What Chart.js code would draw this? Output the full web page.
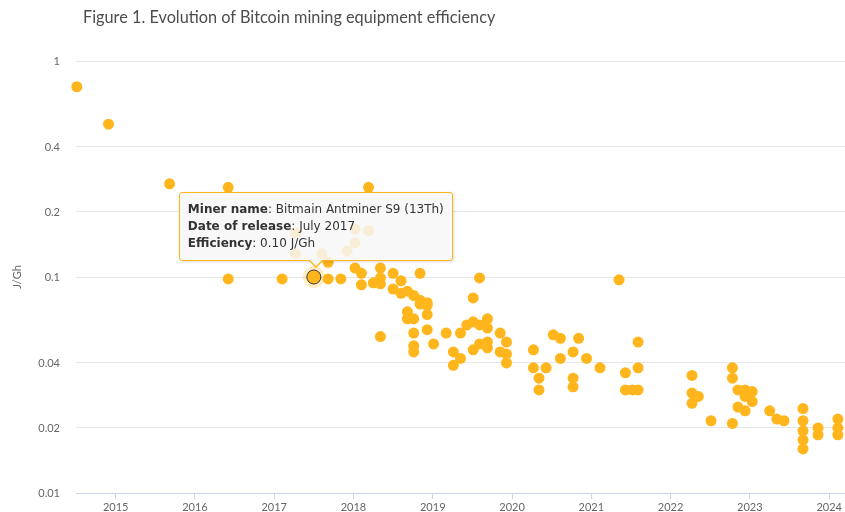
<!DOCTYPE html>
<html>
<head>
<meta charset="utf-8">
<title>Bitcoin mining equipment efficiency</title>
<script src="https://cdn.jsdelivr.net/npm/chart.js@4.4.1/dist/chart.umd.min.js"></script>
<style>
   html, body { margin: 0; padding: 0; background: #fff; }
   #wrap { position: relative; width: 845px; height: 512px; }
   #title {
      position: absolute; left: 83px; top: 8px;
      font: 16.3px Lato, sans-serif; line-height: 18px; color: #4d4d4d;
   }
   #tip {
      display: none; position: absolute; box-sizing: border-box;
      padding: 8px 8px;
      background: rgba(247, 247, 247, 0.85);
      border: 1px solid #ffb61c; border-radius: 3px;
      box-shadow: 1px 1px 3px rgba(0, 0, 0, 0.15);
      font: 12px "DejaVu Sans", sans-serif; line-height: 17px; color: #333;
      white-space: nowrap; pointer-events: none;
   }
   #tip:before, #tip:after {
      content: ''; position: absolute; left: 50%; width: 0; height: 0;
      border-style: solid; border-color: transparent;
   }
   #tip:before { bottom: -8px; margin-left: -8px; border-width: 8px 8px 0 8px; border-top-color: #ffb61c; }
   #tip:after { bottom: -6px; margin-left: -7px; border-width: 7px 7px 0 7px; border-top-color: #f7f7f7; }
</style>
</head>
<body>
<div id="wrap">
   <canvas id="chart"></canvas>
   <div id="title">Figure 1. Evolution of Bitcoin mining equipment efficiency</div>
   <div id="tip"></div>
</div>
<script>
// release date (decimal year) and efficiency (J/Gh) of each machine
const releaseYear = [
   2014.51, 2014.91, 2015.68, 2016.42, 2016.42, 2017.10, 2017.27, 2017.27,
   2017.50, 2017.60, 2017.68, 2017.68, 2017.84, 2017.92,
   2018.02, 2018.02, 2018.02, 2018.10, 2018.10, 2018.19, 2018.19, 2018.25,
   2018.34, 2018.34, 2018.34, 2018.34, 2018.50, 2018.50, 2018.60, 2018.60,
   2018.68, 2018.68, 2018.68, 2018.76, 2018.76, 2018.76, 2018.76, 2018.76,
   2018.84, 2018.84, 2018.84, 2018.93, 2018.93, 2018.93, 2018.93,
   2019.01, 2019.17, 2019.26, 2019.26, 2019.35, 2019.35, 2019.43,
   2019.51, 2019.51, 2019.51, 2019.59, 2019.59, 2019.59,
   2019.69, 2019.69, 2019.69, 2019.69, 2019.85, 2019.85, 2019.93, 2019.93, 2019.93,
   2020.27, 2020.27, 2020.34, 2020.34, 2020.43, 2020.52, 2020.61, 2020.61,
   2020.77, 2020.77, 2020.77, 2020.84, 2020.94, 2021.11,
   2021.35, 2021.43, 2021.43, 2021.52, 2021.59, 2021.59, 2021.59,
   2022.27, 2022.27, 2022.27, 2022.35, 2022.51, 2022.78, 2022.78, 2022.78,
   2022.85, 2022.85, 2022.94, 2022.94, 2022.94, 2023.03, 2023.03,
   2023.25, 2023.34, 2023.43, 2023.67, 2023.67, 2023.67, 2023.67, 2023.67,
   2023.86, 2023.86, 2024.11, 2024.11, 2024.11
]
const efficiency = [
   0.76, 0.51, 0.27, 0.26, 0.098, 0.098, 0.16, 0.128,
   0.10, 0.128, 0.117, 0.098, 0.098, 0.132,
   0.167, 0.144, 0.110, 0.104, 0.092, 0.26, 0.164, 0.094,
   0.110, 0.099, 0.093, 0.053, 0.104, 0.088, 0.096, 0.084,
   0.086, 0.069, 0.064, 0.082, 0.064, 0.055, 0.048, 0.045,
   0.104, 0.078, 0.075, 0.076, 0.074, 0.067, 0.057,
   0.049, 0.055, 0.045, 0.039, 0.055, 0.042, 0.060,
   0.080, 0.062, 0.046, 0.099, 0.060, 0.049,
   0.064, 0.058, 0.050, 0.047, 0.055, 0.045, 0.050, 0.044, 0.040,
   0.046, 0.038, 0.034, 0.030, 0.038, 0.054, 0.052, 0.042,
   0.045, 0.034, 0.031, 0.052, 0.042, 0.038,
   0.097, 0.036, 0.030, 0.030, 0.050, 0.038, 0.030,
   0.035, 0.029, 0.026, 0.028, 0.0216, 0.038, 0.034, 0.021,
   0.030, 0.025, 0.030, 0.028, 0.024, 0.0295, 0.0265,
   0.024, 0.022, 0.0216, 0.0246, 0.0216, 0.0194, 0.0176, 0.016,
   0.020, 0.0186, 0.022, 0.020, 0.0186
]
const yearTicks = [2015, 2016, 2017, 2018, 2019, 2020, 2021, 2022, 2023, 2024]
const efficiencyTicks = [0.01, 0.02, 0.04, 0.1, 0.2, 0.4, 1]

// the machine whose details are shown in the callout
const shownIndex = 8
const shownName = 'Bitmain Antminer S9 (13Th)'
const shownDate = 'July 2017'

const dotColor = '#ffb61c'
const points = releaseYear.map((x, i) => ({ x: x, y: efficiency[i] }))

Chart.defaults.font.family = 'Lato, sans-serif'
Chart.defaults.color = '#666'

function showTooltip(context) {
   const tt = context.tooltip
   const tip = document.getElementById('tip')
   if (tt.opacity === 0 || !tt.dataPoints || !tt.dataPoints.length) {
      tip.style.display = 'none'
      return
   }
   const i = tt.dataPoints[0].dataIndex
   tip.innerHTML =
      '<b>Miner name</b>: ' + shownName + '<br>' +
      '<b>Date of release</b>: ' + shownDate + '<br>' +
      '<b>Efficiency</b>: ' + efficiency[i].toFixed(2) + ' J/Gh'
   tip.style.display = 'block'
   tip.style.left = (tt.caretX - tip.offsetWidth / 2 + 2) + 'px'
   tip.style.top = (tt.caretY - 16 - tip.offsetHeight) + 'px'
}

// soft ring behind the hovered point
const haloPlugin = {
   id: 'halo',
   beforeDatasetsDraw(chart) {
      const ctx = chart.ctx
      chart.getActiveElements().forEach(a => {
         ctx.save()
         ctx.beginPath()
         ctx.arc(a.element.x, a.element.y, 11, 0, Math.PI * 2)
         ctx.fillStyle = 'rgba(255, 182, 28, 0.25)'
         ctx.fill()
         ctx.restore()
      })
   }
}

const chart = new Chart(document.getElementById('chart'), {
   type: 'scatter',
   data: {
      datasets: [{
         data: points,
         backgroundColor: dotColor,
         borderWidth: 0,
         pointRadius: 5.5,
         pointHoverRadius: 7,
         pointHoverBackgroundColor: dotColor,
         pointHoverBorderColor: '#333',
         pointHoverBorderWidth: 1,
         clip: false
      }]
   },
   options: {
      responsive: true,
      maintainAspectRatio: false,
      animation: false,
      events: [],
      layout: {
         autoPadding: false,
         padding: { top: 61, left: 0, right: 0, bottom: 0 }
      },
      plugins: {
         legend: { display: false },
         tooltip: { enabled: false, external: showTooltip }
      },
      scales: {
         x: {
            type: 'linear',
            min: 2014.5,
            max: 2024.2,
            afterBuildTicks: scale => {
               scale.ticks = yearTicks.map(v => ({ value: v }))
            },
            afterFit: scale => {
               scale.height = 19
            },
            ticks: {
               callback: v => String(v),
               font: { size: 11 },
               padding: 2,
               maxRotation: 0,
               autoSkip: false
            },
            grid: {
               drawOnChartArea: false,
               drawTicks: true,
               tickLength: 6,
               color: '#ccd6eb'
            },
            border: { color: '#ccd6eb', width: 1 }
         },
         y: {
            type: 'logarithmic',
            min: 0.01,
            max: 1,
            afterBuildTicks: scale => {
               scale.ticks = efficiencyTicks.map(v => ({ value: v }))
            },
            afterFit: scale => {
               // label padding would otherwise push the plot area up
               scale.width = 76
               scale.paddingTop = 0
               scale.paddingBottom = 0
            },
            ticks: {
               callback: v => String(v),
               font: { size: 11 },
               padding: 16
            },
            grid: { color: '#e6e6e6', drawTicks: false },
            border: { display: false },
            title: {
               display: true,
               text: 'J/Gh',
               font: { size: 11 },
               padding: { top: 11, bottom: 0 }
            }
         }
      }
   },
   plugins: [haloPlugin]
})

const active = [{ datasetIndex: 0, index: shownIndex }]
const el = chart.getDatasetMeta(0).data[shownIndex]
chart.setActiveElements(active)
chart.tooltip.setActiveElements(active, { x: el.x, y: el.y })
chart.update()
</script>
</body>
</html>
